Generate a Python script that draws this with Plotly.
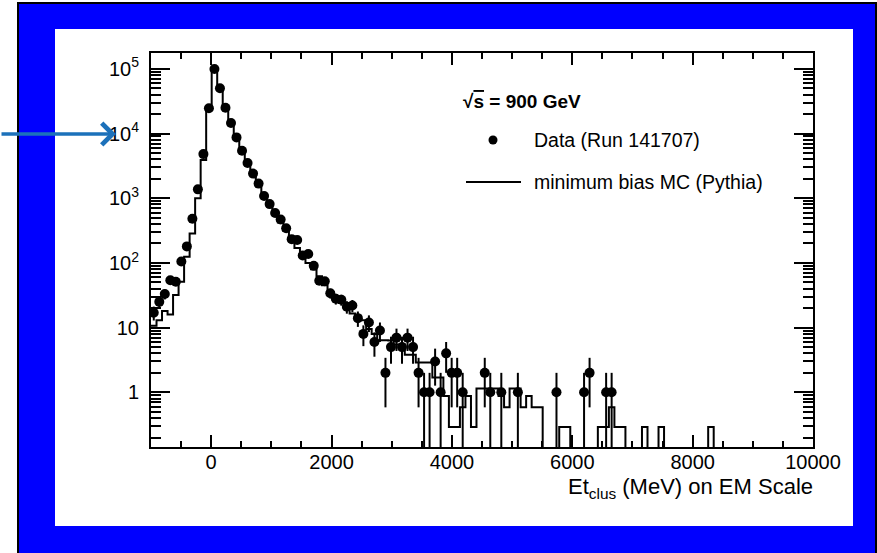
import numpy as np
import plotly.graph_objects as go

# ---------------- data ----------------
x_min, x_max, n_bins = -1000, 10000, 120

data_counts = [
    17, 25, 33, 54, 51, 105, 180, 480, 1370, 4800,
    24500, 99000, 50000, 25000, 14500, 8700, 5400, 3500, 2400, 1680,
    1080, 810, 590, 470, 343, 233, 226, 130, 137, 90,
    53, 52, 34, 28, 27, 21, 22, 14, 8, 12,
    6, 9, 2, 5, 7, 5, 7, 5, 2, 1,
    1, 3, 1, 4, 2, 2, 1, 0, 0, 0,
    2, 1, 0, 1, 0, 0, 1, 0, 0, 0,
    0, 0, 0, 1, 0, 0, 0, 0, 1, 2,
    0, 0, 1, 1, 0, 0, 0, 0, 0, 0,
    0, 0, 0, 0, 0, 0, 0, 0, 0, 0,
    0, 0, 0, 0, 0, 0, 0, 0, 0, 0,
    0, 0, 0, 0, 0, 0, 0, 0, 0, 0,
]

mc_counts = [
    10.7, 13, 18, 16, 32, 51, 125, 285, 1000, 3900,
    23000, 99000, 52000, 25000, 14000, 8200, 5200, 3400, 2300, 1550,
    1100, 760, 560, 420, 310, 225, 170, 125, 100, 80,
    62, 45, 36, 30, 24, 19.5, 16.5, 15, 13, 9.5,
    8, 6.4, 6.4, 6.3, 5.5, 5.5, 3.8, 3.8, 2.9, 2.9,
    2.9, 1.7, 1.7, 0.88, 0.29, 0.29, 0.59, 0.88, 0.29, 1.15,
    1.15, 1.15, 1.15, 0.88, 0.59, 1.15, 1.15, 0.59, 0.88, 0.59,
    0.59, 0, 0, 0, 0.29, 0.29, 0, 0, 0, 0,
    0, 0.29, 0.29, 0.59, 0.29, 0.29, 0, 0, 0, 0.29,
    0, 0, 0.29, 0, 0, 0, 0, 0, 0, 0,
    0, 0.29, 0, 0, 0, 0, 0, 0, 0, 0,
    0, 0, 0, 0, 0, 0, 0, 0, 0, 0,
]

x_tick_vals = [0, 2000, 4000, 6000, 8000, 10000]
x_tick_text = ["0", "2000", "4000", "6000", "8000", "10000"]
y_tick_vals = [1, 10, 100, 1000, 10000, 100000]
y_tick_text = ["1", "10", "10<sup>2</sup>", "10<sup>3</sup>", "10<sup>4</sup>", "10<sup>5</sup>"]

legend_title = "<b>√<span style='text-decoration:overline'>s</span> = 900 GeV</b>"
data_label = "Data (Run 141707)"
mc_label = "minimum bias MC (Pythia)"
x_title = "Et<sub>clus</sub> (MeV) on EM Scale"

# ---------------- derived ----------------
edges = np.linspace(x_min, x_max, n_bins + 1)
centers = 0.5 * (edges[:-1] + edges[1:])
data = np.array(data_counts, dtype=float)
mask = data > 0
d_y = data[mask]
err_up = np.sqrt(d_y)
err_dn = d_y - np.maximum(d_y - np.sqrt(d_y), 1e-3)

floor = 1e-3
mc = np.array(mc_counts, dtype=float)
mc_y = np.where(mc > 0, mc, floor)
mc_y = np.append(mc_y, mc_y[-1])

# ---------------- figure geometry ----------------
W, H = 877, 553
L, R, T, B = 151, 64, 53, 106
pw, ph = W - L - R, H - T - B


def px(x):
    return (x - L) / pw


def py(y):
    return (H - B - y) / ph


FONT = "Liberation Sans, Arial, Helvetica, sans-serif"

fig = go.Figure()
fig.add_trace(go.Scatter(
    x=edges, y=mc_y, mode="lines",
    line=dict(shape="hv", color="black", width=2),
    name=mc_label, showlegend=False, hoverinfo="skip",
))
fig.add_trace(go.Scatter(
    x=centers[mask], y=d_y, mode="markers",
    marker=dict(color="black", size=10),
    error_y=dict(type="data", symmetric=False, array=err_up, arrayminus=err_dn,
                 color="black", thickness=2, width=0),
    name=data_label, showlegend=False,
))

axis_common = dict(
    showline=True, linecolor="black", linewidth=2, mirror="allticks",
    ticks="inside", tickcolor="black", tickwidth=1.5,
    showgrid=False, zeroline=False,
    tickfont=dict(family=FONT, size=20, color="black"),
)

fig.update_xaxes(
    range=[x_min, x_max], tickmode="array", tickvals=x_tick_vals, ticktext=x_tick_text,
    ticklen=12, ticklabelstandoff=-4,
    minor=dict(tickmode="linear", tick0=0, dtick=500, ticks="inside", ticklen=6,
               tickwidth=1.5, tickcolor="black", showgrid=False),
    **axis_common,
)
fig.update_yaxes(
    type="log", range=[-0.845, 5.244], tickmode="array", tickvals=y_tick_vals,
    ticktext=y_tick_text, ticklen=19, ticklabelstandoff=6,
    minor=dict(ticks="inside", ticklen=10, tickwidth=1.5, tickcolor="black",
               dtick="D1", showgrid=False),
    **axis_common,
)

shapes = [
    # black outer border
    dict(type="rect", xref="paper", yref="paper", x0=px(17), x1=px(880), y0=py(2), y1=py(560),
         fillcolor="black", line=dict(width=0), layer="below"),
    # blue frame
    dict(type="rect", xref="paper", yref="paper", x0=px(19), x1=px(875), y0=py(4), y1=py(560),
         fillcolor="#0000FF", line=dict(width=0), layer="below"),
    # white panel
    dict(type="rect", xref="paper", yref="paper", x0=px(55), x1=px(853), y0=py(29), y1=py(526),
         fillcolor="white", line=dict(width=0), layer="below"),
    # legend glyphs
    dict(type="circle", xref="paper", yref="paper", x0=px(488.5), x1=px(497.5), y0=py(135.5), y1=py(144.5),
         fillcolor="black", line=dict(width=0)),
    dict(type="line", xref="paper", yref="paper", x0=px(466), x1=px(521), y0=py(182), y1=py(182),
         line=dict(color="black", width=2)),
]

annotations = [
    dict(xref="paper", yref="paper", x=px(461), y=py(101), xanchor="left", yanchor="middle",
         text=legend_title, showarrow=False, font=dict(family=FONT, size=19, color="black")),
    dict(xref="paper", yref="paper", x=px(532), y=py(140), xanchor="left", yanchor="middle",
         text=data_label, showarrow=False, font=dict(family=FONT, size=19.5, color="black")),
    dict(xref="paper", yref="paper", x=px(532), y=py(182), xanchor="left", yanchor="middle",
         text=mc_label, showarrow=False, font=dict(family=FONT, size=19.5, color="black")),
    dict(xref="paper", yref="paper", x=px(815), y=py(504), xanchor="right", yanchor="bottom",
         text=x_title, showarrow=False, font=dict(family=FONT, size=22, color="black")),
    # blue pointer arrow
    dict(xref="paper", yref="paper", x=px(116), y=py(134), ax=-116, ay=0,
         text="", showarrow=True, arrowhead=4, arrowsize=1.2, arrowwidth=3.5,
         arrowcolor="#1C71BA", standoff=0),
]

fig.update_layout(
    width=W, height=H,
    margin=dict(l=L, r=R, t=T, b=B, pad=0),
    paper_bgcolor="white", plot_bgcolor="white",
    showlegend=False,
    shapes=shapes, annotations=annotations,
    font=dict(family=FONT, color="black"),
)

fig.write_html("out.html")
